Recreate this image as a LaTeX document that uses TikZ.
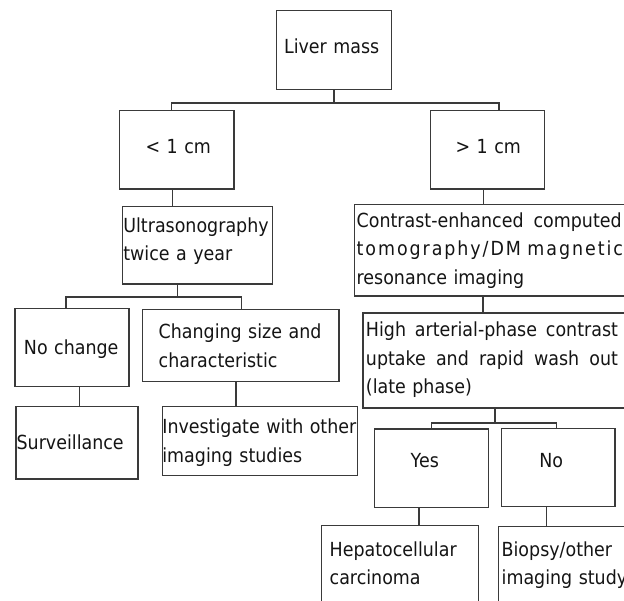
\documentclass[tikz,border=0pt]{standalone}
\usepackage{fontspec}
\setmainfont{DejaVu Sans}[FakeStretch=0.9]
\definecolor{boxc}{HTML}{3A3A3A}
\definecolor{txtc}{HTML}{141414}
\newcommand\oneline[1]{\mbox{#1}}
\begin{document}
\begin{tikzpicture}[x=1pt,y=-1pt,
  box/.style={draw=boxc, line width=1.3pt, inner sep=0pt, anchor=north west,
    align=left, text=txtc, font=\fontsize{19.4}{28.6}\selectfont,
    text height=0pt, text depth=0pt},
  link/.style={draw=boxc, line width=1.3pt}]
\useasboundingbox (0,0) rectangle (624,601);
\clip (0,0) rectangle (624,601);

% level 0
\node[box, minimum width=114.7pt, minimum height=78.7pt, text width=99.9pt, text height=7.9pt] (lm) at (276,10) {\oneline{Liver mass}};
% level 1
\node[box, minimum width=114.3pt, minimum height=78.3pt, text width=62.3pt, text height=8.3pt] (lt) at (119,110) {\oneline{< 1 cm}};
\node[box, minimum width=114pt, minimum height=78.3pt, text width=64pt, text height=8.3pt] (gt) at (430,110) {\oneline{> 1 cm}};
% level 2
\node[box, minimum width=150pt, minimum height=77.6pt, text width=148pt, text depth=25.6pt] (us) at (121.7,205.7)
  {\oneline{Ultrasonography}\\\oneline{twice a year}};
\node[box, minimum width=286pt, minimum height=91.3pt, text width=282pt, text depth=45.9pt] (ct) at (354,204)
  {\makebox[265pt][l]{Contrast-enhanced\hfill computed}\\{\addfontfeature{LetterSpace=10}\oneline{tomography/DM magnetic}}\\\oneline{resonance imaging}};
% level 3
\node[box, minimum width=114pt, minimum height=78.3pt, text width=96pt, text height=14.3pt] (nc) at (14.3,307.7) {\oneline{No change}};
\node[box, minimum width=196.3pt, minimum height=72pt, text width=164.3pt, text depth=13.4pt] (cs) at (142,309)
  {\oneline{Changing size and}\\\oneline{characteristic}};
\node[box, minimum width=282pt, minimum height=95pt, text width=276pt, text depth=47.6pt] (ha) at (362.3,312.3)
  {\makebox[252pt][l]{High\hfill arterial-phase\hfill contrast}\\\makebox[252pt][l]{uptake\hfill and\hfill rapid\hfill wash\hfill out}\\\oneline{(late phase)}};
% level 4
\node[box, minimum width=122pt, minimum height=72.3pt, text width=120.6pt, text height=14.3pt] (sv) at (15.3,406) {\oneline{Surveillance}};
\node[box, minimum width=195pt, minimum height=69pt, text width=195pt, text depth=14.4pt] (inv) at (161.7,406)
  {\oneline{Investigate with other}\\\oneline{imaging studies}};
\node[box, minimum width=113.7pt, minimum height=78.4pt, text width=41.7pt, text depth=1.6pt] (yes) at (374,428.3) {\oneline{Yes}};
\node[box, minimum width=113.6pt, minimum height=77.7pt, text width=37.6pt, text depth=0.3pt] (no) at (500.7,428) {\oneline{No}};
% level 5
\node[box, minimum width=157pt, minimum height=100pt, text width=140.4pt, text depth=38.6pt] (hc) at (320.7,525)
  {\oneline{Hepatocellular}\\\oneline{carcinoma}};
\node[box, minimum width=160pt, minimum height=100pt, text width=153.4pt, text depth=40.6pt] (bo) at (497.7,526)
  {\oneline{Biopsy/other}\\\oneline{imaging study}};

% connectors
\draw[link] (lm.south) -- ++(0,13) coordinate (j1);
\draw[link] ([xshift=-5.4pt]lt.north) |- (j1) -| ([xshift=11.3pt]gt.north);
\draw[link] ([xshift=-4.5pt]lt.south) -- ([xshift=-4.5pt]lt.south |- us.north);
\draw[link] ([xshift=-4.5pt]gt.south) -- ([xshift=-4.5pt]gt.south |- ct.north);
\draw[link] ([xshift=-20pt]us.south) -- ++(0,12.4) coordinate (j2);
\draw[link] ([xshift=-6pt]nc.north) |- (j2) -| ([xshift=0.5pt]cs.north);
\draw[link] ([xshift=129pt]ct.south west) -- ([xshift=129pt]ct.south west |- ha.north);
\draw[link] ([xshift=7.7pt]nc.south) -- ([xshift=7.7pt]nc.south |- sv.north);
\draw[link] ([xshift=-4.85pt]cs.south) -- ([xshift=-4.85pt]cs.south |- inv.north);
\draw[link] ([xshift=132.7pt]ha.south west) -- ++(0,14.4) coordinate (j3);
\draw[link] ([xshift=-0.3pt]yes.north) |- (j3) -| ([xshift=-1.5pt]no.north);
\draw[link] ([xshift=-12.5pt]yes.south) -- ([xshift=-12.5pt]yes.south |- hc.north);
\draw[link] ([xshift=-11.8pt]no.south) -- ([xshift=-11.8pt]no.south |- bo.north);
\end{tikzpicture}
\end{document}
